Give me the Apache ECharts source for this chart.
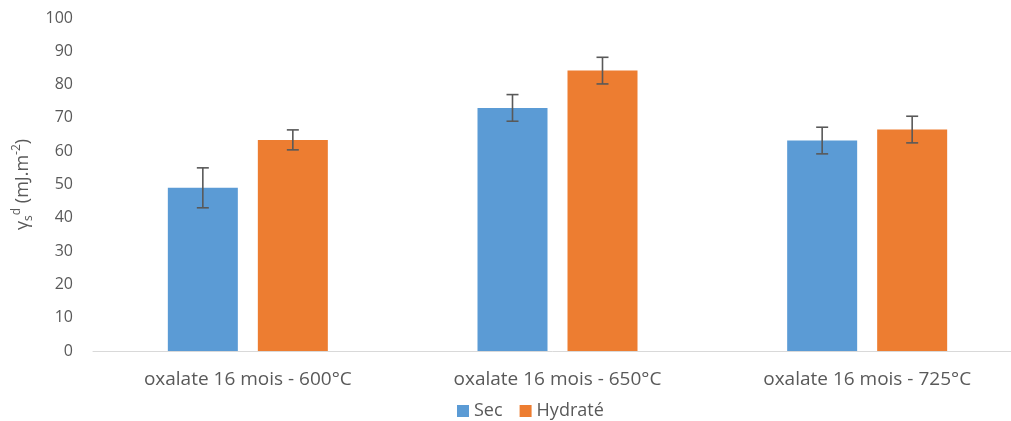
<!DOCTYPE html>
<html>
<head>
<meta charset="utf-8">
<script src="https://cdn.jsdelivr.net/npm/echarts@6/dist/echarts.min.js"></script>
<style>html,body{margin:0;padding:0;background:#fff}#c{width:1011px;height:421px}</style>
</head>
<body>
<div id="c"></div>
<script>
var categories = ['oxalate 16 mois - 600°C', 'oxalate 16 mois - 650°C', 'oxalate 16 mois - 725°C'];
var secValues = [49, 73, 63.2];
var secErrors = [6, 4, 4];
var hydValues = [63.4, 84.2, 66.5];
var hydErrors = [3, 4, 4];
var yTicks = [0, 10, 20, 30, 40, 50, 60, 70, 80, 90, 100];

var BAR_W = 70, GAP = 20;
var FONT = '"Open Sans", "Liberation Sans", sans-serif';
var TXT = '#595959';

function errSeries(values, errors, offset) {
  return {
    type: 'custom',
    z: 10,
    silent: true,
    data: values.map(function (v, i) { return [i, v - errors[i], v + errors[i]]; }),
    renderItem: function (params, api) {
      var lo = api.coord([api.value(0), api.value(1)]);
      var hi = api.coord([api.value(0), api.value(2)]);
      var x = lo[0] + offset;
      var cap = 6;
      var st = { stroke: '#595959', lineWidth: 1.6 };
      return {
        type: 'group',
        children: [
          { type: 'line', shape: { x1: x, y1: lo[1], x2: x, y2: hi[1] }, style: st },
          { type: 'line', shape: { x1: x - cap, y1: lo[1], x2: x + cap, y2: lo[1] }, style: st },
          { type: 'line', shape: { x1: x - cap, y1: hi[1], x2: x + cap, y2: hi[1] }, style: st }
        ]
      };
    }
  };
}

var chart = echarts.init(document.getElementById('c'));
chart.setOption({
  animation: false,
  textStyle: { fontFamily: FONT },
  grid: { left: 93, top: 18, width: 929, height: 333, outerBoundsMode: 'none', containLabel: false },
  legend: {
    top: 402,
    left: 457,
    padding: 0,
    itemWidth: 12,
    itemHeight: 12,
    itemGap: 17,
    icon: 'rect',
    textStyle: { color: TXT, fontSize: 18, fontFamily: FONT },
    data: ['Sec', 'Hydraté']
  },
  xAxis: {
    type: 'category',
    data: categories,
    axisLine: { lineStyle: { color: '#d9d9d9', width: 1 } },
    axisTick: { show: false },
    axisLabel: { color: TXT, fontSize: 19, margin: 19, fontFamily: FONT }
  },
  yAxis: {
    type: 'value',
    min: yTicks[0],
    max: yTicks[yTicks.length - 1],
    interval: 10,
    axisLine: { show: false },
    axisTick: { show: false },
    splitLine: { show: false },
    axisLabel: { color: TXT, fontSize: 16, margin: 20, fontFamily: FONT },
    name: '{g|γ}{sub|s}{sup|d}{t| (mJ.m}{sup|-2}{t|)}',
    nameLocation: 'middle',
    nameRotate: 90,
    nameGap: 55,
    nameTextStyle: {
      color: TXT,
      fontFamily: FONT,
      rich: {
        g: { fontSize: 18, color: TXT, fontFamily: FONT, lineHeight: 24 },
        t: { fontSize: 18, color: TXT, fontFamily: FONT, lineHeight: 24 },
        sub: { fontSize: 12, color: TXT, fontFamily: FONT, lineHeight: 24, verticalAlign: 'bottom', padding: [9, 0, 0, 0] },
        sup: { fontSize: 12, color: TXT, fontFamily: FONT, lineHeight: 24, verticalAlign: 'top', padding: [0, 0, 9, 0] }
      }
    }
  },
  series: [
    { name: 'Sec', type: 'bar', data: secValues, barWidth: BAR_W, barGap: (GAP / BAR_W * 100) + '%', itemStyle: { color: '#5b9bd5' } },
    { name: 'Hydraté', type: 'bar', data: hydValues, barWidth: BAR_W, barGap: (GAP / BAR_W * 100) + '%', itemStyle: { color: '#ed7d31' } },
    errSeries(secValues, secErrors, -(BAR_W + GAP) / 2),
    errSeries(hydValues, hydErrors, (BAR_W + GAP) / 2)
  ]
});
</script>
</body>
</html>
